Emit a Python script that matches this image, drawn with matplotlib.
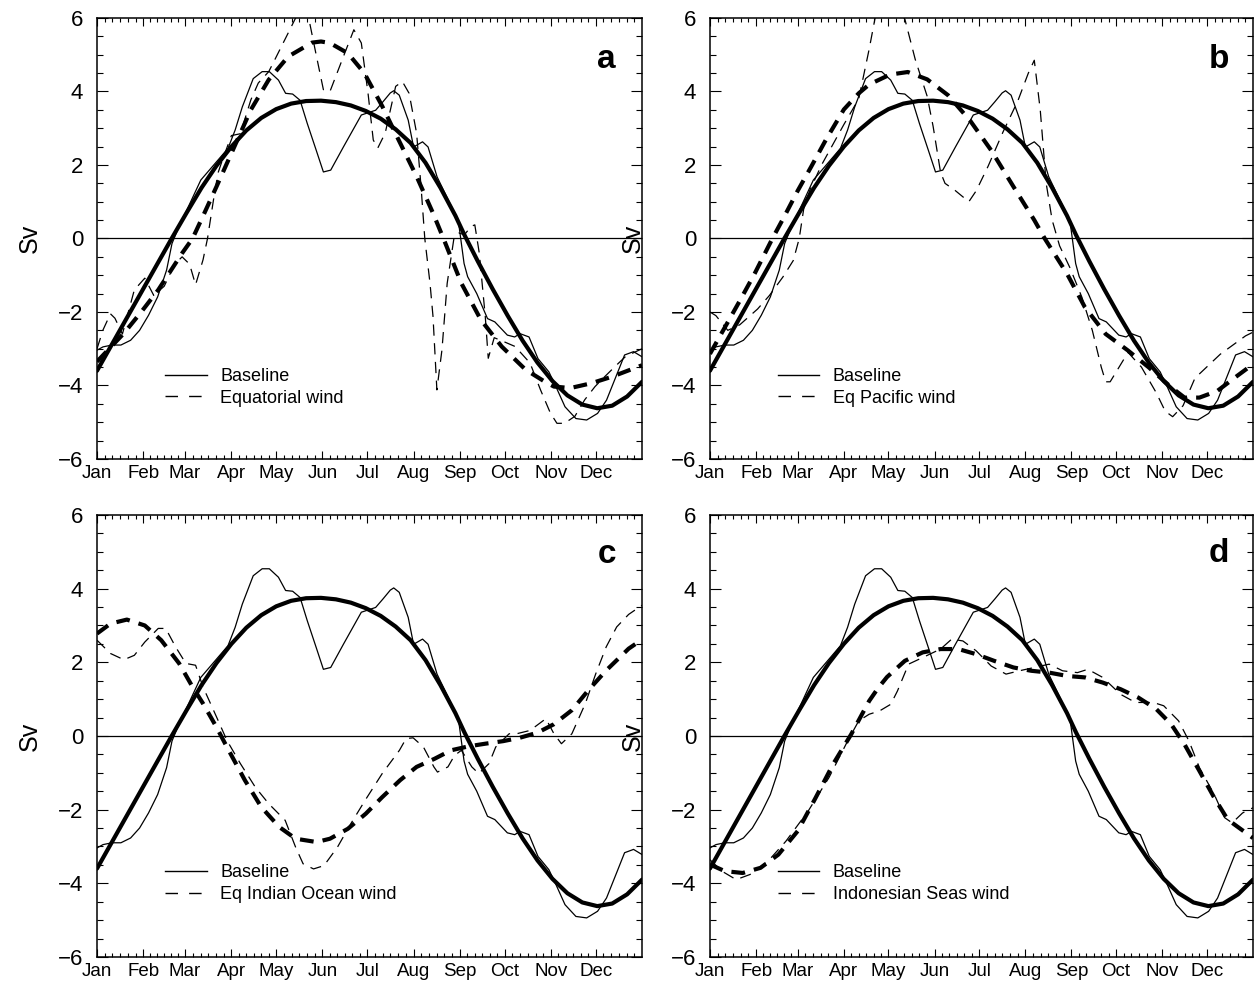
import matplotlib
matplotlib.use('Agg')
import matplotlib.pyplot as plt
from matplotlib.lines import Line2D
from matplotlib.ticker import FixedLocator, MultipleLocator, NullFormatter

plt.rcParams['font.family'] = ['Liberation Sans', 'DejaVu Sans']

# ---------------- data ----------------
month_labels = ['Jan', 'Feb', 'Mar', 'Apr', 'May', 'Jun',
                'Jul', 'Aug', 'Sep', 'Oct', 'Nov', 'Dec']
month_start = [0, 31, 59, 90, 120, 151, 181, 212, 243, 273, 304, 334]

# Baseline, raw (thin solid) - same in all panels
base_raw_day = [0, 4, 10, 16, 22.5, 28.5, 34.5, 40.6, 46.6, 50.2, 53.9, 69.5, 87.7, 92.5,
                97.3, 104.6, 110.6, 115.4, 121.5, 126.3, 131, 136, 140.8, 146.8, 151.6,
                156.5, 165, 177, 186.6, 191.5, 196.4, 198.7, 202.4, 208.4, 212, 218,
                221.7, 227.7, 237.4, 242.2, 245.8, 248.2, 254.3, 261.5, 266.4, 274.8,
                279.7, 283.3, 289.3, 295.3, 302.6, 307.4, 313.4, 320.7, 327.9, 335.2,
                341.2, 348.4, 353.3, 359.3, 365]
base_raw_val = [-3.04, -2.95, -2.9, -2.9, -2.77, -2.5, -2.09, -1.59, -0.86, -0.14, 0.23,
                1.59, 2.45, 2.95, 3.58, 4.35, 4.54, 4.54, 4.31, 3.95, 3.93, 3.76, 3.13,
                2.40, 1.81, 1.86, 2.49, 3.36, 3.49, 3.72, 3.96, 4.02, 3.9, 3.22, 2.49,
                2.63, 2.49, 1.68, 0.86, 0.41, -0.68, -1.04, -1.5, -2.18, -2.27, -2.63,
                -2.68, -2.59, -2.68, -3.27, -3.63, -4.04, -4.58, -4.90, -4.94, -4.76,
                -4.40, -3.67, -3.17, -3.08, -3.22]

# Baseline, smoothed (thick solid) - same in all panels
base_smooth_day = [0, 10, 20, 30, 40, 50, 60, 70, 80, 90, 100, 110, 120, 130, 140, 150,
                   160, 170, 180, 190, 200, 210, 220, 230, 240, 246, 255, 265, 275, 285,
                   295, 305, 315, 325, 335, 345, 355, 365]
base_smooth_val = [-3.6, -2.88, -2.16, -1.44, -0.72, 0.0, 0.7, 1.38, 1.98, 2.5, 2.94, 3.28,
                   3.52, 3.67, 3.74, 3.75, 3.71, 3.62, 3.47, 3.26, 2.97, 2.6, 2.06, 1.38,
                   0.62, 0.1, -0.62, -1.38, -2.1, -2.78, -3.38, -3.88, -4.27, -4.52, -4.62,
                   -4.55, -4.3, -3.9]

# (a) Equatorial wind
a_raw_day = [0, 4, 9, 12, 17, 25, 32, 38, 45, 52, 57, 62, 66, 71, 74, 78, 81, 84, 90, 96,
             103, 108, 115, 119, 128, 133, 137, 142, 147, 151.6, 156, 165, 172, 177, 181.5,
             185, 188, 193, 200, 204.5, 209, 214, 217, 219.5, 223, 225, 227.6, 231, 234.5,
             239, 242.5, 246, 250.6, 253, 256, 260, 262, 266, 272, 280, 290, 297, 303.6,
             308, 313, 320, 326.6, 333.5, 340, 347, 354, 365]
a_raw_val = [-3.0, -2.49, -2.05, -2.17, -2.6, -1.4, -1.08, -1.55, -1.3, -0.7, -0.5, -0.7,
             -1.26, -0.58, 0.0, 1.05, 1.78, 2.14, 2.8, 2.85, 3.77, 4.23, 4.54, 4.86, 5.59,
             6.0, 6.25, 5.95, 4.95, 4.05, 4.0, 4.95, 5.68, 5.32, 3.95, 2.68, 2.46, 2.87,
             4.14, 4.27, 3.95, 2.87, 1.41, 0.0, -1.22, -2.12, -4.12, -3.03, -1.22, 0.0,
             0.15, 0.1, 0.33, 0.37, -0.4, -2.12, -3.26, -2.7, -2.8, -2.94, -3.39, -4.12,
             -4.75, -5.03, -5.03, -4.84, -4.39, -4.03, -3.76, -3.48, -3.21, -3.0]
a_smooth_day = [0, 18, 30, 41, 57, 64, 72, 80, 92, 103, 115, 128, 144, 150, 156, 168, 179,
                191, 202, 214, 225, 232, 244, 257, 271, 287, 300, 306, 317, 331, 345, 365]
a_smooth_val = [-3.35, -2.58, -1.98, -1.4, -0.4, 0.0, 0.7, 1.41, 2.5, 3.5, 4.32, 4.95,
                5.33, 5.36, 5.32, 5.04, 4.5, 3.6, 2.68, 1.69, 0.69, 0.0, -1.22, -2.21,
                -2.94, -3.57, -3.9, -4.03, -4.07, -3.94, -3.76, -3.45]

# (b) Eq Pacific wind
b_raw_day = [0, 4, 12, 20, 32, 40, 49, 56, 60, 63, 67, 75, 90, 100, 107, 111, 120, 131,
             138, 146, 150, 155, 158, 165, 174, 179, 187, 197, 207, 214, 218, 222, 226,
             230, 235, 242, 250, 257, 263, 266, 269, 275, 281, 290, 300, 306, 311, 318,
             326, 343, 360, 365]
b_raw_val = [-2.0, -2.1, -2.5, -2.35, -1.92, -1.55, -1.05, -0.6, 0.0, 0.8, 1.3, 2.0, 3.1,
             3.8, 5.15, 6.0, 6.6, 5.97, 4.87, 3.87, 3.05, 1.8, 1.5, 1.3, 1.0, 1.3, 1.97,
             2.9, 3.75, 4.5, 4.85, 3.5, 1.5, 0.5, -0.2, -0.8, -1.6, -2.5, -3.5, -3.9, -3.9,
             -3.5, -3.1, -3.5, -4.2, -4.7, -4.85, -4.55, -3.8, -3.15, -2.65, -2.55]
b_smooth_day = [0, 10, 20, 30, 42, 50, 59, 68, 78, 90, 100, 107, 121, 133, 146, 160, 175,
                189, 204, 218, 225, 240, 252, 266, 281, 295, 310, 319, 329, 341, 353, 365]
b_smooth_val = [-3.14, -2.42, -1.7, -0.96, 0.0, 0.6, 1.3, 1.95, 2.69, 3.51, 3.95, 4.19,
                4.46, 4.53, 4.33, 3.9, 3.2, 2.4, 1.41, 0.5, 0.0, -0.96, -1.87, -2.6, -3.05,
                -3.51, -4.05, -4.33, -4.33, -4.15, -3.78, -3.42]

# (c) Eq Indian Ocean wind
c_raw_day = [0, 9, 18, 25, 32, 41, 46, 52.6, 59.5, 66, 71, 80, 87, 96, 106, 115, 126, 133,
             138, 145, 152, 161, 170, 179.5, 191, 202.5, 207, 211.7, 218.6, 225.6, 228,
             235, 239.4, 244, 251, 255.6, 262.5, 267, 276, 281, 290, 300.6, 306, 311, 318,
             327, 334, 341, 348, 356, 365]
c_raw_val = [2.6, 2.24, 2.07, 2.19, 2.55, 2.92, 2.92, 2.42, 1.97, 1.92, 1.33, 0.52, -0.12,
             -0.75, -1.39, -1.84, -2.29, -3.02, -3.47, -3.61, -3.52, -3.02, -2.38, -1.75,
             -1.02, -0.39, -0.07, -0.05, -0.3, -0.84, -0.98, -0.84, -0.53, -0.39, -0.84,
             -1.02, -0.75, -0.3, 0.06, 0.06, 0.15, 0.47, 0.06, -0.21, 0.06, 0.88, 1.69,
             2.42, 2.96, 3.3, 3.55]
c_smooth_day = [0, 9, 20, 32, 43, 55, 64, 71, 80, 87, 99, 110, 122, 133, 147, 156, 168,
                180, 191, 203, 214, 226, 237, 249, 260, 272, 283, 295, 306, 318, 329, 341,
                356, 365]
c_smooth_val = [2.78, 3.05, 3.16, 3.0, 2.6, 1.97, 1.33, 0.88, 0.24, -0.3, -1.2, -1.93,
                -2.47, -2.79, -2.88, -2.79, -2.52, -2.11, -1.66, -1.2, -0.84, -0.62, -0.39,
                -0.28, -0.21, -0.14, -0.05, 0.09, 0.32, 0.7, 1.24, 1.78, 2.37, 2.62]

# (d) Indonesian Seas wind
d_raw_day = [0, 8, 17.6, 27, 39, 51, 66, 80, 92.5, 100, 107, 114, 121.5, 126, 133.5, 143,
             155, 162.5, 170, 179, 189, 199, 208, 218, 228, 237, 247, 254, 264, 276, 286,
             298, 305, 315, 322, 329, 339, 346, 351, 358, 365]
d_raw_val = [-3.36, -3.67, -3.9, -3.76, -3.4, -2.86, -2.04, -1.13, -0.14, 0.41, 0.59,
             0.68, 0.86, 1.22, 1.95, 2.13, 2.36, 2.63, 2.58, 2.31, 1.9, 1.68, 1.77, 1.86,
             1.95, 1.77, 1.72, 1.81, 1.59, 1.13, 0.91, 0.91, 0.82, 0.41, -0.14, -0.86,
             -1.59, -2.22, -2.36, -2.09, -1.95]
d_smooth_day = [0, 10, 22, 34, 46, 59, 71, 83, 89, 95, 101, 107, 113, 119, 131, 143, 155,
                167, 179, 191, 204, 216, 228, 240, 252, 264, 276, 288, 300, 310, 319, 329,
                339, 348, 365]
d_smooth_val = [-3.49, -3.67, -3.72, -3.58, -3.22, -2.58, -1.68, -0.75, -0.35, 0.05, 0.5,
                0.95, 1.3, 1.6, 2.04, 2.27, 2.36, 2.36, 2.22, 2.04, 1.86, 1.77, 1.72, 1.63,
                1.59, 1.45, 1.27, 1.04, 0.73, 0.32, -0.23, -0.95, -1.68, -2.27, -2.77]

panels = [
    ('a', 'Equatorial wind', a_raw_day, a_raw_val, a_smooth_day, a_smooth_val),
    ('b', 'Eq Pacific wind', b_raw_day, b_raw_val, b_smooth_day, b_smooth_val),
    ('c', 'Eq Indian Ocean wind', c_raw_day, c_raw_val, c_smooth_day, c_smooth_val),
    ('d', 'Indonesian Seas wind', d_raw_day, d_raw_val, d_smooth_day, d_smooth_val),
]

# ---------------- layout ----------------
fig = plt.figure(figsize=(12.55, 9.83), dpi=100)
rects = {
    'a': [0.0773, 0.5331, 0.4343, 0.4486],
    'b': [0.5657, 0.5331, 0.4327, 0.4486],
    'c': [0.0773, 0.0265, 0.4343, 0.4496],
    'd': [0.5657, 0.0265, 0.4327, 0.4496],
}
ylabel_x = {'a': -0.101, 'b': -0.12, 'c': -0.101, 'd': -0.12}
letter_pos = {'a': (0.934, 0.887), 'b': (0.937, 0.887),
              'c': (0.936, 0.891), 'd': (0.937, 0.894)}
legend_y = {'a': 0.162, 'b': 0.162, 'c': 0.166, 'd': 0.166}

# minor ticks: 5 per month interval
bounds = month_start + [365]
minor = []
for i in range(12):
    s, e = bounds[i], bounds[i + 1]
    for k in range(1, 6):
        minor.append(s + (e - s) * k / 6.0)

for key, name, rd, rv, sd, sv in panels:
    ax = fig.add_axes(rects[key])
    ax.axhline(0, color='black', lw=0.9, zorder=1)
    ax.plot(base_raw_day, base_raw_val, color='black', lw=0.9, zorder=2)
    ax.plot(rd, rv, color='black', lw=0.9, dashes=(9, 6), zorder=2)
    ax.plot(base_smooth_day, base_smooth_val, color='black', lw=3.0,
            solid_capstyle='round', solid_joinstyle='round', zorder=3)
    ax.plot(sd, sv, color='black', lw=3.0, dashes=(3.3, 2.2),
            dash_capstyle='butt', dash_joinstyle='round', zorder=3)

    ax.set_xlim(0, 365)
    ax.set_ylim(-6, 6)
    ax.xaxis.set_major_locator(FixedLocator(month_start))
    ax.set_xticklabels(month_labels, fontsize=13.5)
    ax.xaxis.set_minor_locator(FixedLocator(minor))
    ax.xaxis.set_minor_formatter(NullFormatter())
    ax.yaxis.set_major_locator(MultipleLocator(2))
    ax.yaxis.set_minor_locator(MultipleLocator(0.5))
    ax.tick_params(which='both', direction='in', top=True, right=True, width=0.8)
    ax.tick_params(axis='y', which='major', length=8, labelsize=16, pad=10)
    ax.tick_params(axis='y', which='minor', length=4)
    ax.tick_params(axis='x', which='major', length=6, pad=4)
    ax.tick_params(axis='x', which='minor', length=3)
    for sp in ax.spines.values():
        sp.set_linewidth(1.1)

    ax.set_ylabel('Sv', fontsize=18)
    ax.yaxis.set_label_coords(ylabel_x[key], 0.5)

    lx, ly = letter_pos[key]
    ax.text(lx, ly, key, transform=ax.transAxes, fontsize=24, fontweight='bold',
            ha='center', va='baseline')

    handles = [Line2D([], [], color='black', lw=1.0),
               Line2D([], [], color='black', lw=1.0, dashes=(9, 8))]
    ax.legend(handles, ['Baseline', name], loc='center left',
              bbox_to_anchor=(0.125, legend_y[key]), frameon=False,
              handlelength=2.3, handletextpad=0.75, labelspacing=0.25,
              borderpad=0, borderaxespad=0, fontsize=13)

fig.savefig('out.png', dpi=100)
